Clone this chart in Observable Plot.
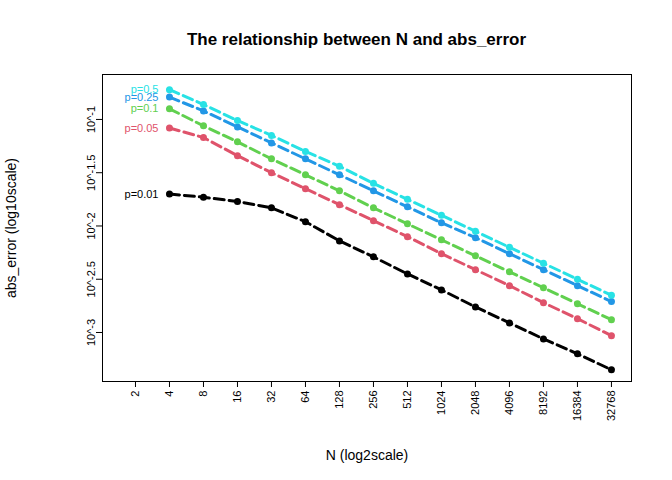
<!DOCTYPE html>
<html><head><meta charset="utf-8">
<script src="https://cdn.jsdelivr.net/npm/d3@7"></script>
<script src="https://cdn.jsdelivr.net/npm/@observablehq/plot@0.6"></script>
<style>body{margin:0;background:#fff;font-family:Arial,"Liberation Sans",sans-serif}#wrap{position:relative;width:672px;height:480px}
#title{position:absolute;top:30px;left:82px;width:549px;text-align:center;font-weight:bold;font-size:17px}</style>
</head><body><div id="wrap"><div id="title">The relationship between N and abs_error</div></div>
<script>
const Ns = [4,8,16,32,64,128,256,512,1024,2048,4096,8192,16384,32768];
const xTicks = [2,4,8,16,32,64,128,256,512,1024,2048,4096,8192,16384,32768];
const yTicks = [-1,-1.5,-2,-2.5,-3];
const pLabels = ["p=0.01","p=0.05","p=0.1","p=0.25","p=0.5"];
const colors = ["#000000","#DF536B","#61D04F","#2297E6","#28E2E5"];
const err001 = [-1.70,-1.73,-1.77,-1.83,-1.96,-2.14,-2.29,-2.45,-2.60,-2.76,-2.91,-3.06,-3.20,-3.35];
const err005 = [-1.08,-1.17,-1.34,-1.50,-1.65,-1.80,-1.95,-2.10,-2.26,-2.41,-2.56,-2.72,-2.87,-3.03];
const err01  = [-0.90,-1.06,-1.21,-1.37,-1.52,-1.67,-1.83,-1.98,-2.13,-2.28,-2.43,-2.58,-2.73,-2.88];
const err025 = [-0.79,-0.92,-1.07,-1.22,-1.37,-1.52,-1.67,-1.82,-1.97,-2.11,-2.26,-2.41,-2.56,-2.71];
const err05  = [-0.72,-0.86,-1.01,-1.15,-1.30,-1.44,-1.60,-1.75,-1.90,-2.05,-2.20,-2.35,-2.50,-2.65];
const series = [err001,err005,err01,err025,err05];
const data = series.flatMap((s,i)=>s.map((v,j)=>({p:pLabels[i],x:Math.log2(Ns[j]),y:v})));
const firsts = series.map((s,i)=>({p:pLabels[i],x:Math.log2(Ns[0]),y:s[0]}));
const plot = Plot.plot({
  width:672,height:480,marginLeft:102,marginRight:41,marginTop:74,marginBottom:99,
  style:{fontFamily:"Arial, Liberation Sans, sans-serif",fontSize:"11px",background:"#fff"},
  x:{domain:[0.03,15.59]},
  y:{domain:[-3.46,-0.578]},
  color:{domain:pLabels,range:colors},
  marks:[
    Plot.frame({stroke:"black"}),
    Plot.axisX({ticks:xTicks.map(Math.log2),tickFormat:d=>String(2**d),tickRotate:-90,fontSize:11,label:null}),
    Plot.axisX({ticks:[],label:"N (log2scale)",fontSize:14,labelAnchor:"center",labelOffset:78,labelArrow:false,tickSize:0}),
    Plot.axisY({ticks:yTicks,tickFormat:d=>"10^"+d,tickRotate:-90,fontSize:11,label:null,tickPadding:2}),
    Plot.axisY({ticks:[],label:"abs_error (log10scale)",fontSize:14,labelAnchor:"center",labelOffset:96,labelArrow:false,tickSize:0}),
    Plot.line(data,{x:"x",y:"y",stroke:"p",strokeWidth:3,strokeDasharray:"10,5"}),
    Plot.dot(data,{x:"x",y:"y",fill:"p",r:3.5}),
    Plot.text(firsts,{x:"x",y:"y",text:"p",fill:"p",textAnchor:"end",dx:-11,fontSize:11})
  ]
});
plot.style.position="absolute";plot.style.top="0";plot.style.left="0";
document.getElementById("wrap").prepend(plot);
</script></body></html>
